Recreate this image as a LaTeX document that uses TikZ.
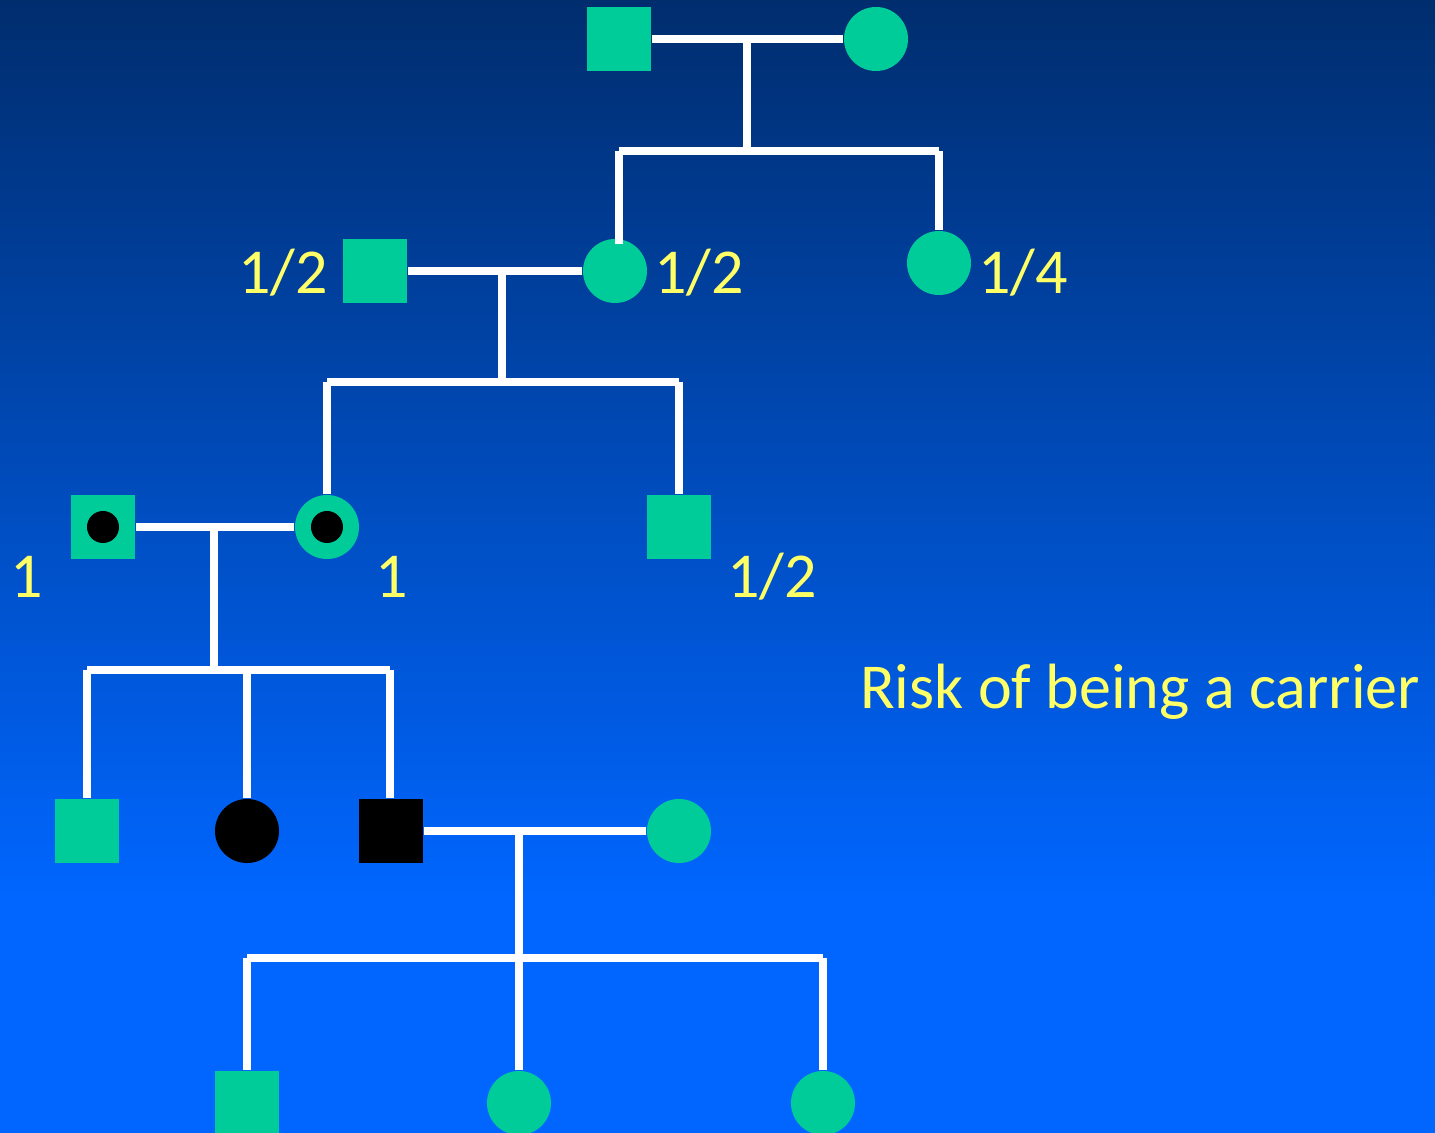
\documentclass[tikz,border=0pt]{standalone}
\usepackage{fontspec}
\setmainfont{Carlito}
\definecolor{bgtop}{RGB}{0,45,110}
\definecolor{bgbot}{RGB}{0,102,255}
\definecolor{unaff}{RGB}{0,204,153}
\definecolor{lbl}{RGB}{255,255,102}
\begin{document}
\begin{tikzpicture}[x=0.01cm,y=-0.01cm,
  male/.style={rectangle,fill=unaff,minimum size=0.64cm,inner sep=0pt},
  female/.style={circle,fill=unaff,minimum size=0.64cm,inner sep=0pt},
  affected/.style={fill=black},
  carrierdot/.style={circle,fill=black,minimum size=0.32cm,inner sep=0pt},
  link/.style={draw=white,line width=0.075cm},
  risk/.style={text=lbl,font=\fontsize{18.2}{20}\selectfont,inner sep=0pt,anchor=base}]
  % background
  \useasboundingbox (0,0) rectangle (1435,1133);
  \fill[top color=bgtop,bottom color=bgbot] (0,0) rectangle (1435,900);
  \fill[bgbot] (0,899) rectangle (1435,1133);

  % generation I
  \node[male]   (i1) at (619,39) {};
  \node[female] (i2) at (876,39) {};
  % generation II
  \node[male]   (ii1) at (375,271) {};
  \node[female] (ii2) at (615,271) {};
  \node[female] (ii3) at (939,263) {};
  % generation III (obligate carriers)
  \node[male]   (iii1) at (103,527) {};
  \node[carrierdot] (iii1d) at (iii1) {};
  \node[female] (iii2) at (327,527) {};
  \node[carrierdot] (iii2d) at (iii2) {};
  \node[male]   (iii3) at (679,527) {};
  % generation IV
  \node[male]   (iv1) at (87,831) {};
  \node[female,affected] (iv2) at (247,831) {};
  \node[male,affected]   (iv3) at (391,831) {};
  \node[female] (iv4) at (679,831) {};
  % generation V
  \node[male]   (v1) at (247,1103) {};
  \node[female] (v2) at (519,1103) {};
  \node[female] (v3) at (823,1103) {};

  % junction points of the lines of descent
  \coordinate (m1) at (747,39);   \coordinate (d1) at (747,151);
  \coordinate (s1a) at (619,151); \coordinate (s1b) at (939,151);
  \coordinate (m2) at (502,271);  \coordinate (d2) at (502,382);
  \coordinate (s2a) at (327,382); \coordinate (s2b) at (679,382);
  \coordinate (m3) at (214,527);  \coordinate (d3) at (214,670);
  \coordinate (s3a) at (87,670);  \coordinate (s3b) at (247,670); \coordinate (s3c) at (390,670);
  \coordinate (m4) at (519,831);  \coordinate (d4) at (519,958);
  \coordinate (s4a) at (247,958); \coordinate (s4b) at (519,958); \coordinate (s4c) at (823,958);

  % marriages and descent lines
  \draw[link] (i1.east) -- (i2.west);
  \draw[link] (m1) -- (d1);
  \draw[link] (s1a) -- (s1b);
  \draw[link] (s1a) -- ([yshift=-0.06cm]s1a |- ii2.north);
  \draw[link] (s1b) -- (ii3.north);

  \draw[link] (ii1.east) -- (ii2.west);
  \draw[link] (m2) -- (d2);
  \draw[link] (s2a) -- (s2b);
  \draw[link] (s2a) -- (iii2.north);
  \draw[link] (s2b) -- (iii3.north);

  \draw[link] (iii1.east) -- (iii2.west);
  \draw[link] (m3) -- (d3);
  \draw[link] (s3a) -- (s3c);
  \draw[link] (s3a) -- (iv1.north);
  \draw[link] (s3b) -- (iv2.north);
  \draw[link] (s3c) -- (s3c |- iv3.north);

  \draw[link] (iv3.east) -- (iv4.west);
  \draw[link] (m4) -- (d4);
  \draw[link] (s4a) -- (s4c);
  \draw[link] (s4a) -- (v1.north);
  \draw[link] (s4b) -- (v2.north);
  \draw[link] (s4c) -- (v3.north);

  % carrier risks
  \node[risk] (r1) at (283,293) {1/2};
  \node[risk] (r2) at (699,293) {1/2};
  \node[risk] (r3) at (1023,293) {1/4};
  \node[risk] (r4) at (27,597) {1};
  \node[risk] (r5) at (392,597) {1};
  \node[risk] (r6) at (772,597) {1/2};
  \node[risk] (cap) at (1140,708) {Risk of being a carrier};
\end{tikzpicture}
\end{document}
